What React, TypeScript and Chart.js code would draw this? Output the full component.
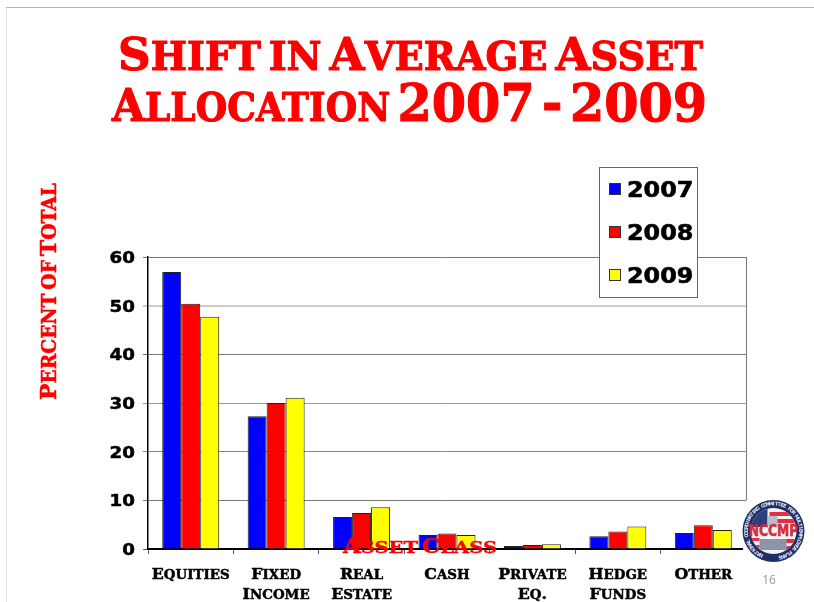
import React, { useEffect, useRef } from "react";
import { Chart, registerables } from "chart.js";

Chart.register(...registerables);

const categories = [["Equities"], ["Fixed", "Income"], ["Real", "Estate"], ["Cash"], ["Private", "Eq."], ["Hedge", "Funds"], ["Other"]];
const seriesNames = ["2007", "2008", "2009"];
const seriesColors = ["#0000ff", "#ff0000", "#ffff00"];
const values2007 = [56.9, 27.3, 6.6, 2.9, 0.6, 2.6, 3.3];
const values2008 = [50.4, 30.0, 7.4, 3.2, 0.8, 3.6, 4.9];
const values2009 = [47.7, 31.1, 8.6, 2.9, 1.0, 4.6, 3.9];
const titleLines = ["Shift in Average Asset", "Allocation 2007 - 2009"];
const yAxisTitle = "Percent of Total";
const xAxisTitle = "Asset Class";
const pageNumber = "16";
const logoText = "NCCMP";
const logoRing = "National Coordinating Committee for Multiemployer Plans";
const gridColors = ["#555", "#777", "#888", "#999", "#777", "#ccc", "#777"];

const SERIF = '"DejaVu Serif", serif';
const SANS = '"DejaVu Sans", sans-serif';

type Run = { t: string; size: number };

// Small caps with our own letter ratio, stretched horizontally to imitate the wide slide typeface.
function capsRuns(text: string, size: number, digitScale: number): Run[] {
  const runs: Run[] = [];
  for (const ch of text) {
    let s = size;
    let t = ch;
    if (/[a-z]/.test(ch)) { s = size * 0.85; t = ch.toUpperCase(); }
    else if (/[0-9-]/.test(ch)) { s = size * digitScale; }
    else if (ch === " ") { s = size * 0.5; }
    const last = runs[runs.length - 1];
    if (last && last.size === s) last.t += t;
    else runs.push({ t, size: s });
  }
  return runs;
}

function drawCaps(ctx: any, text: string, cx: number, baseline: number, size: number, opts: { width?: number; sx?: number; stroke?: number; color: string; digitScale?: number }) {
  const runs = capsRuns(text, size, opts.digitScale ?? 1);
  let natural = 0;
  for (const r of runs) {
    ctx.font = `bold ${r.size}px ${SERIF}`;
    natural += ctx.measureText(r.t).width;
  }
  const sx = opts.width ? opts.width / natural : opts.sx ?? 1;
  ctx.save();
  ctx.translate(cx - (natural * sx) / 2, baseline);
  ctx.scale(sx, 1);
  ctx.fillStyle = opts.color;
  ctx.strokeStyle = opts.color;
  ctx.lineWidth = opts.stroke ?? 0;
  ctx.textAlign = "left";
  ctx.textBaseline = "alphabetic";
  ctx.lineJoin = "round";
  let x = 0;
  for (const r of runs) {
    ctx.font = `bold ${r.size}px ${SERIF}`;
    ctx.fillText(r.t, x, 0);
    if (opts.stroke) ctx.strokeText(r.t, x, 0);
    x += ctx.measureText(r.t).width;
  }
  ctx.restore();
}

function drawDigits(ctx: any, text: string, x: number, baseline: number, size: number, sx: number, stroke: number, align: "left" | "right") {
  ctx.save();
  ctx.font = `bold ${size}px ${SANS}`;
  const w = ctx.measureText(text).width * sx;
  ctx.translate(align === "right" ? x - w : x, baseline);
  ctx.scale(sx, 1);
  ctx.textAlign = "left";
  ctx.textBaseline = "alphabetic";
  ctx.fillStyle = "#000";
  ctx.strokeStyle = "#000";
  ctx.lineWidth = stroke;
  ctx.lineJoin = "round";
  ctx.fillText(text, 0, 0);
  ctx.strokeText(text, 0, 0);
  ctx.restore();
}

function drawLogo(ctx: any) {
  const cx = 773.5, cy = 531, r = 31;
  ctx.save();
  ctx.fillStyle = "#fff";
  ctx.fillRect(743, 501, 71, 62);
  ctx.beginPath();
  ctx.arc(cx, cy, r, 0, Math.PI * 2);
  ctx.fillStyle = "#1f2f66";
  ctx.fill();
  ctx.beginPath();
  ctx.arc(cx, cy, r - 8, 0, Math.PI * 2);
  ctx.fillStyle = "#f4f4f6";
  ctx.fill();
  ctx.save();
  ctx.clip();
  ctx.fillStyle = "#2c3f7c";
  ctx.fillRect(cx - 24, cy - 24, 18, 20);
  ctx.fillStyle = "#e23040";
  [-19, -12, 8, 15].forEach((d) => ctx.fillRect(cx - 4, cy + d, 30, 4));
  ctx.fillRect(cx - 24, cy + 7, 10, 3);
  ctx.fillRect(cx - 24, cy + 14, 10, 3);
  ctx.fillStyle = "#8d93a8";
  ctx.fillRect(cx - 14, cy + 8, 27, 11);
  ctx.fillStyle = "#b9bdcb";
  ctx.fillRect(cx - 6, cy - 15, 10, 10);
  ctx.restore();
  ctx.fillStyle = "#e23040";
  ctx.strokeStyle = "#b01c30";
  ctx.lineWidth = 0.4;
  ctx.font = `bold 12px ${SANS}`;
  ctx.textAlign = "center";
  ctx.textBaseline = "middle";
  ctx.save();
  ctx.translate(cx, cy + 1);
  ctx.scale(1.02, 1.25);
  ctx.fillText(logoText, 0, 0);
  ctx.strokeText(logoText, 0, 0);
  ctx.restore();
  ctx.fillStyle = "#dfe2ee";
  ctx.font = `bold 5px ${SANS}`;
  const chars = logoRing.toUpperCase().split("");
  const step = (Math.PI * 2) / (chars.length + 6);
  chars.forEach((c, i) => {
    const ang = -Math.PI * 1.35 + i * step;
    ctx.save();
    ctx.translate(cx + Math.cos(ang) * (r - 4), cy + Math.sin(ang) * (r - 4));
    ctx.rotate(ang + Math.PI / 2);
    ctx.fillText(c, 0, 0);
    ctx.restore();
  });
  ctx.restore();
}

const overlay = {
  id: "overlay",
  afterDraw(chart: any) {
    const { ctx, chartArea: a, scales } = chart;
    ctx.save();

    // slide frame
    ctx.lineWidth = 1;
    ctx.strokeStyle = "#e2e2e2";
    ctx.beginPath();
    ctx.moveTo(6.5, 7);
    ctx.lineTo(6.5, 602);
    ctx.stroke();
    ctx.strokeStyle = "#b4b4b4";
    ctx.beginPath();
    ctx.moveTo(6, 7.5);
    ctx.lineTo(814, 7.5);
    ctx.stroke();

    // right edge of the plot
    ctx.strokeStyle = "#777";
    ctx.beginPath();
    ctx.moveTo(a.right + 0.5, a.top);
    ctx.lineTo(a.right + 0.5, scales.y.getPixelForValue(10));
    ctx.stroke();

    // title
    drawCaps(ctx, titleLines[0], 410.5, 70, 45, { width: 585, stroke: 1.1, color: "#ff0000" });
    drawCaps(ctx, titleLines[1], 409.5, 121, 45, { width: 595, stroke: 1.1, color: "#ff0000", digitScale: 1.16 });

    // y axis title
    ctx.save();
    ctx.translate(56, 291.5);
    ctx.rotate(-Math.PI / 2);
    drawCaps(ctx, yAxisTitle, 0, 0, 23, { width: 217, stroke: 0.5, color: "#ff0000" });
    ctx.restore();

    // y tick labels
    scales.y.ticks.forEach((t: any) => {
      drawDigits(ctx, String(t.value), 135, scales.y.getPixelForValue(t.value) + 6, 16, 1.14, 0.5, "right");
    });

    // x tick labels
    categories.forEach((lines, i) => {
      const px = scales.x.getPixelForValue(i);
      lines.forEach((line, j) => {
        drawCaps(ctx, line, px, 579 + j * 20, 15.5, { sx: 1.02, stroke: 0.5, color: "#000" });
      });
    });

    // legend
    const lx = 599, ly = 167, lw = 98, lh = 130;
    ctx.fillStyle = "#fff";
    ctx.fillRect(lx, ly, lw, lh);
    ctx.strokeStyle = "#666";
    ctx.lineWidth = 1;
    ctx.strokeRect(lx + 0.5, ly + 0.5, lw, lh);
    seriesNames.forEach((name, i) => {
      const cy = ly + 22 + i * 43;
      ctx.fillStyle = seriesColors[i];
      ctx.fillRect(609.5, cy - 5.5, 11, 11);
      ctx.strokeStyle = "#333";
      ctx.strokeRect(609.5, cy - 5.5, 11, 11);
      drawDigits(ctx, name, 627, cy + 8, 21.5, 1.11, 0.6, "left");
    });

    // x axis title overlapping the bars
    drawCaps(ctx, xAxisTitle, 420, 553, 20, { width: 154, stroke: 0.4, color: "#ff0000" });

    drawLogo(ctx);

    // page number
    ctx.fillStyle = "#999";
    ctx.font = '12px "Open Sans", sans-serif';
    ctx.textAlign = "center";
    ctx.textBaseline = "middle";
    ctx.fillText(pageNumber, 769, 581);
    ctx.restore();
  },
};

export default function App() {
  const ref = useRef<HTMLCanvasElement>(null);
  useEffect(() => {
    const mk = (i: number, data: number[]) => ({
      label: seriesNames[i],
      data,
      backgroundColor: seriesColors[i],
      borderColor: "#222",
      borderWidth: 1,
    });
    const chart = new Chart(ref.current!, {
      type: "bar",
      data: {
        labels: categories as any,
        datasets: [mk(0, values2007), mk(1, values2008), mk(2, values2009)],
      },
      plugins: [overlay],
      options: {
        animation: false,
        responsive: false,
        layout: { padding: { left: 60, right: 68, top: 257, bottom: 0 } },
        datasets: { bar: { categoryPercentage: 0.667, barPercentage: 1 } },
        plugins: {
          legend: { display: false },
          tooltip: { enabled: false },
          title: { display: false },
        },
        scales: {
          x: {
            afterFit: (s: any) => { s.height = 53; },
            grid: { drawOnChartArea: false, drawTicks: true, tickLength: 5, color: "#555" },
            border: { color: "#000", width: 2 },
            ticks: { display: false },
          },
          y: {
            min: 0,
            max: 60,
            afterFit: (s: any) => { s.width = 88; },
            grid: {
              color: (c: any) => gridColors[c.index] ?? "#777",
              lineWidth: (c: any) => (c.index === 5 ? 2 : 1),
              tickLength: 5,
            },
            border: { color: "#000", width: 1.5 },
            ticks: { display: false, stepSize: 10 },
          },
        },
      },
    });
    return () => chart.destroy();
  }, []);
  return (
    <div style={{ position: "fixed", left: 0, top: 0, width: 814, height: 602, background: "#fff" }}>
      <canvas ref={ref} width={814} height={602} style={{ display: "block" }} />
    </div>
  );
}
